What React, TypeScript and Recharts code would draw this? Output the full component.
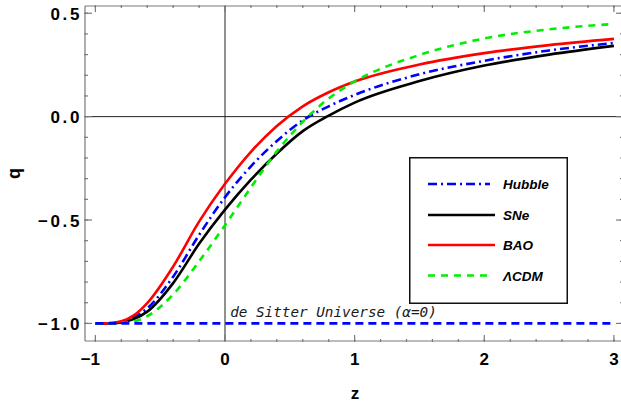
import React from 'react';
import { LineChart, Line, XAxis, YAxis, ReferenceLine, ReferenceDot, Legend } from 'recharts';

// redshift grid and deceleration parameter q(z)
const zValues = [-1, -0.9, -0.8, -0.7, -0.6, -0.4, -0.2, 0, 0.2, 0.4, 0.6, 0.8, 1, 1.5, 2, 2.5, 3];
const hubble = [-1, -0.999, -0.993, -0.97, -0.927, -0.774, -0.572, -0.39, -0.24, -0.118, -0.018, 0.05, 0.105, 0.205, 0.27, 0.32, 0.356];
const sne = [-1, -1, -0.995, -0.978, -0.943, -0.805, -0.615, -0.45, -0.305, -0.178, -0.07, 0.005, 0.068, 0.172, 0.247, 0.3, 0.342];
const bao = [-1, -0.999, -0.99, -0.96, -0.902, -0.725, -0.508, -0.325, -0.17, -0.045, 0.05, 0.118, 0.17, 0.252, 0.307, 0.346, 0.376];
const lcdm = [-1, -1, -0.998, -0.99, -0.965, -0.86, -0.7, -0.525, -0.342, -0.168, -0.025, 0.088, 0.17, 0.298, 0.378, 0.422, 0.448];

const deSitterQ = -1;
const deSitterLabel = 'de Sitter Universe (\u03b1=0)';

const xMajor = [-1, 0, 1, 2, 3];
const xMinor = [-1, -0.8, -0.6, -0.4, -0.2, 0, 0.2, 0.4, 0.6, 0.8, 1, 1.2, 1.4, 1.6, 1.8, 2, 2.2, 2.4, 2.6, 2.8, 3];
const yMajor = [-1, -0.5, 0, 0.5];
const yMinor = [-1, -0.9, -0.8, -0.7, -0.6, -0.5, -0.4, -0.3, -0.2, -0.1, 0, 0.1, 0.2, 0.3, 0.4, 0.5];

const seriesNames = ['Hubble', 'SNe', 'BAO', '\u039bCDM'];

const chartData = zValues.map((z, i) => ({
  z,
  hubble: hubble[i],
  sne: sne[i],
  bao: bao[i],
  lcdm: lcdm[i],
}));

const FONT = '"Liberation Sans", Arial, Helvetica, sans-serif';
const FRAME = '#7a7a7a';
const X_DOMAIN = [-1.08, 3.07];
const Y_DOMAIN = [-1.085, 0.535];

const STYLES = [
  { key: 'hubble', color: '#0000ff', dash: '9 4 2 4' },
  { key: 'sne', color: '#000000', dash: undefined },
  { key: 'bao', color: '#ff0000', dash: undefined },
  { key: 'lcdm', color: '#00ee00', dash: '7 6' },
];

const withMinus = (s: string) => s.replace('-', '\u2212');

// tick={false} would drop the tick lines too, so unlabeled axes get an empty tick
const EmptyTick = () => <g />;

const BottomLabel = (props: any) => {
  const { x, y, payload } = props;
  const v = payload.value;
  return (
    <text x={v < 0 ? x - 5 : x} y={y + 24} textAnchor="middle" fontFamily={FONT} fontWeight="bold" fontSize={17} fill="#000">
      {withMinus(String(v))}
    </text>
  );
};

const LeftLabel = (props: any) => {
  const { x, y, payload } = props;
  return (
    <text x={x - 3} y={y + 6.5} textAnchor="end" fontFamily={FONT} fontWeight="bold" fontSize={17} letterSpacing={2.6} fill="#000">
      {withMinus(payload.value.toFixed(1))}
    </text>
  );
};

const LegendBox = () => {
  const rows = [27, 58, 88, 118.5];
  return (
    <svg width={159} height={147} style={{ display: 'block' }}>
      <rect x={0.75} y={0.75} width={157.5} height={145.5} fill="#fff" stroke="#111" strokeWidth={1.5} />
      {seriesNames.map((name, i) => (
        <g key={name}>
          <line
            x1={19}
            x2={i === 0 || i === 3 ? 81 : 86}
            y1={rows[i]}
            y2={rows[i]}
            stroke={STYLES[i].color}
            strokeWidth={2.5}
            strokeDasharray={STYLES[i].dash}
          />
          <text x={94} y={rows[i] + 5} fontFamily={FONT} fontWeight="bold" fontStyle="italic" fontSize={13.5} fill="#000">
            {name}
          </text>
        </g>
      ))}
    </svg>
  );
};

const AnnotationText = (props: any) => (
  <text
    x={props.cx}
    y={props.cy}
    fontFamily='"DejaVu Sans Mono", "Liberation Mono", monospace'
    fontStyle="italic"
    fontSize={14.3}
    fill="#1a1a1a"
  >
    {deSitterLabel}
  </text>
);

const ZLabel = (p: any) => {
  const vb = p.viewBox;
  return (
    <text x={vb.x + vb.width / 2 + 1} y={vb.y + 58} textAnchor="middle" fontFamily={FONT} fontWeight="bold" fontSize={17} fill="#000">
      z
    </text>
  );
};

const QLabel = (p: any) => {
  const vb = p.viewBox;
  const cx = vb.x + vb.width - 65;
  const cy = vb.y + vb.height / 2;
  return (
    <text x={cx} y={cy} transform={`rotate(-90, ${cx}, ${cy})`} textAnchor="middle" fontFamily={FONT} fontWeight="bold" fontSize={18} fill="#000">
      q
    </text>
  );
};

const tickStroke = { stroke: FRAME, strokeWidth: 1.2 };

const App: React.FC = () => {
  return (
    <div style={{ position: 'absolute', left: 0, top: 0, width: 621, height: 405, overflow: 'hidden', background: '#fff' }}>
      <LineChart width={625} height={405} data={chartData} margin={{ top: 4, right: 0, left: 83, bottom: 62 }}>
        {/* bottom frame: labelled major ticks + minor ticks, all pointing inward */}
        <XAxis
          dataKey="z"
          type="number"
          domain={X_DOMAIN}
          allowDataOverflow
          ticks={xMajor}
          interval={0}
          height={1}
          tickSize={-6}
          tickMargin={6}
          tickLine={tickStroke}
          axisLine={tickStroke}
          tick={<BottomLabel />}
          label={{ content: ZLabel }}
        />
        <XAxis
          xAxisId="minorB"
          dataKey="z"
          type="number"
          domain={X_DOMAIN}
          allowDataOverflow
          ticks={xMinor}
          interval={0}
          height={1}
          tickSize={-3}
          tickLine={tickStroke}
          axisLine={false}
          tick={<EmptyTick />}
        />
        <XAxis
          xAxisId="majorT"
          orientation="top"
          dataKey="z"
          type="number"
          domain={X_DOMAIN}
          allowDataOverflow
          ticks={xMajor}
          interval={0}
          height={1}
          tickSize={-6}
          tickLine={tickStroke}
          axisLine={tickStroke}
          tick={<EmptyTick />}
        />
        <XAxis
          xAxisId="minorT"
          orientation="top"
          dataKey="z"
          type="number"
          domain={X_DOMAIN}
          allowDataOverflow
          ticks={xMinor}
          interval={0}
          height={1}
          tickSize={-3}
          tickLine={tickStroke}
          axisLine={false}
          tick={<EmptyTick />}
        />
        {/* left and right frame */}
        <YAxis
          type="number"
          domain={Y_DOMAIN}
          allowDataOverflow
          ticks={yMajor}
          interval={0}
          width={1}
          tickSize={-7}
          tickMargin={7}
          tickLine={tickStroke}
          axisLine={tickStroke}
          tick={<LeftLabel />}
          label={{ content: QLabel }}
        />
        <YAxis
          yAxisId="minorL"
          type="number"
          domain={Y_DOMAIN}
          allowDataOverflow
          ticks={yMinor}
          interval={0}
          width={1}
          tickSize={-4}
          tickLine={tickStroke}
          axisLine={false}
          tick={<EmptyTick />}
        />
        <YAxis
          yAxisId="majorR"
          orientation="right"
          type="number"
          domain={Y_DOMAIN}
          allowDataOverflow
          ticks={yMajor}
          interval={0}
          width={1}
          tickSize={-7}
          tickLine={tickStroke}
          axisLine={tickStroke}
          tick={<EmptyTick />}
        />
        <YAxis
          yAxisId="minorR"
          orientation="right"
          type="number"
          domain={Y_DOMAIN}
          allowDataOverflow
          ticks={yMinor}
          interval={0}
          width={1}
          tickSize={-4}
          tickLine={tickStroke}
          axisLine={false}
          tick={<EmptyTick />}
        />
        <ReferenceLine x={0} stroke="#222" strokeWidth={1} />
        <ReferenceLine y={0} stroke="#222" strokeWidth={1} />
        {STYLES.map((s, i) => (
          <Line
            key={s.key}
            dataKey={s.key}
            name={seriesNames[i]}
            type="monotone"
            stroke={s.color}
            strokeWidth={2.6}
            strokeDasharray={s.dash}
            dot={false}
            activeDot={false}
            isAnimationActive={false}
          />
        ))}
        <ReferenceLine
          segment={[{ x: -1, y: deSitterQ }, { x: 3, y: deSitterQ }]}
          stroke="#0000ff"
          strokeWidth={2.6}
          strokeDasharray="8 5"
        />
        <ReferenceDot x={0.04} y={-0.969} r={0} shape={(p: any) => <AnnotationText {...p} />} />
        <Legend
          layout="vertical"
          align="center"
          verticalAlign="middle"
          wrapperStyle={{ left: 409, top: 157, width: 159, height: 147 }}
          content={() => <LegendBox />}
        />
      </LineChart>
    </div>
  );
};

export default App;
